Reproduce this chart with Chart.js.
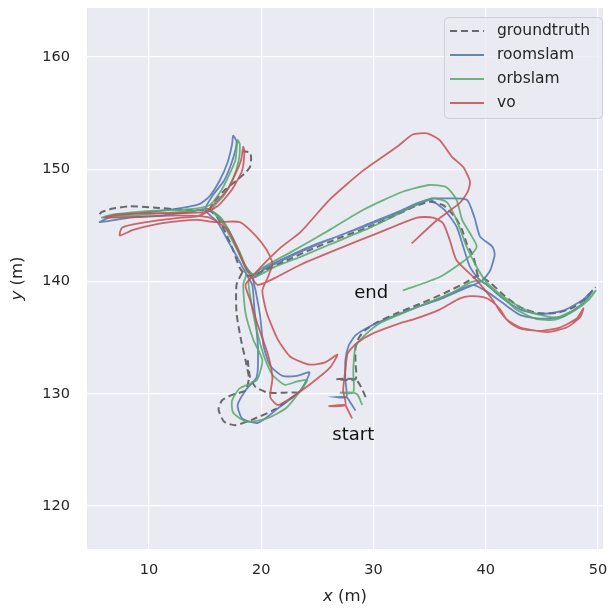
<!DOCTYPE html>
<html>
<head>
<meta charset="utf-8">
<script src="https://cdn.jsdelivr.net/npm/chart.js@4/dist/chart.umd.min.js"></script>
<style>
  html, body { margin: 0; padding: 0; background: #ffffff; }
  #wrap { width: 610px; height: 608px; }
</style>
</head>
<body>
<div id="wrap"><canvas id="chart" width="610" height="608"></canvas></div>
<script>
// Axis ranges and ticks (metres)
const xRange = [4.48, 50.45];
const yRange = [116.17, 164.37];
const xTicks = [10, 20, 30, 40, 50];
const yTicks = [120, 130, 140, 150, 160];

const seriesNames = ['groundtruth', 'roomslam', 'orbslam', 'vo'];

// Text annotations (centre x, baseline y)
const noteText = ['start', 'end'];
const noteX = [28.2, 29.8];
const noteY = [125.9, 138.5];

// groundtruth, null = break in the dashed line
const gtX = [29.3, 28.9, 28.4, 26.7, 28.4, 28.4, 28.4, 28.7, 29.3, 30.4, 31.9, 34.1, 36.4, 38.2, 39.3, 40.4, 41.7, 43.1, 44.6, 46.3, 47.8, 49.0, 49.8, null,
  39.3, 38.9, 38.3, 37.9, 37.3, 36.2, 35.0, 33.7, 32.4, 29.7, 27.0, 24.3, 22.1, 20.3, 19.2, 18.6, 18.1, 17.5, 16.8, 16.1, 15.4, 12.8, 10.4, 8.3, 6.8, 5.8, 5.6, null,
  15.4, 15.7, 16.8, 17.8, 18.5, 19.0, 19.1, 19.0, 18.4, null,
  18.3, 17.8, 17.8, 18.2, 18.6, 18.9, 18.6, 17.4, 16.5, 16.2, 16.7, 17.7, 19.2, 21.2, 22.8, 23.3, 22.1, 20.6, 19.5, 19.0, 18.8];
const gtY = [129.7, 130.6, 131.3, 131.3, 131.3, 132.8, 134.1, 135.0, 135.7, 136.4, 137.1, 138.0, 139.0, 139.9, 140.5, 139.9, 138.7, 137.7, 137.2, 137.2, 137.7, 138.6, 139.5, null,
  140.5, 142.2, 143.4, 144.6, 145.7, 146.8, 147.1, 146.7, 146.1, 144.9, 143.9, 142.8, 141.8, 141.0, 140.5, 140.6, 141.2, 142.8, 144.4, 145.7, 146.3, 146.4, 146.6, 146.7, 146.5, 146.2, 146.0, null,
  146.3, 147.0, 148.2, 149.0, 149.6, 150.2, 151.0, 151.5, 151.6, null,
  140.8, 139.7, 137.2, 134.8, 133.0, 131.4, 130.3, 129.9, 129.4, 128.6, 127.5, 127.2, 127.7, 128.6, 129.7, 130.1, 130.1, 130.1, 130.6, 131.5, 133.0];

// roomslam
const roomX = [28.4, 27.9, 27.6, 26.7, 27.6, 27.5, 27.5, 27.8, 28.4, 29.5, 31.0, 33.3, 35.9, 38.2, 38.9,
  40.1, 41.5, 43.1, 44.8, 46.9, 48.7, 49.5, 48.7, 46.9, 44.8, 43.1, 41.5, 40.1, 39.5,
  38.6, 38.0, 37.4, 36.3, 35.0, 33.7, 32.4, 29.7, 27.0, 24.3, 22.1, 20.3, 19.5,
  18.5, 17.8, 17.1, 16.3, 15.2, 13.7, 11.2, 8.3, 6.5, 5.6, 6.8, 9.2, 11.9, 14.5,
  15.4, 16.3, 17.0, 17.4, 17.5, 17.8, 17.7, 17.3, 16.7, 15.7, 15.0,
  16.1, 17.0, 17.9, 18.7, 19.2, 19.4, 19.7, 19.6, 18.6, 17.9, 18.3, 19.7, 21.5, 23.5, 24.3,
  23.2, 21.9, 20.8, 20.2, 19.9, 19.5, 19.3,
  20.3, 22.1, 24.3, 27.0, 29.7, 32.4, 35.3, 35.9, 38.3, 39.0, 39.5, 40.6, 40.8, 40.4, 39.7, 38.2, 35.9, 34.1];
const roomY = [128.5, 129.3, 129.7, 129.7, 129.7, 131.2, 133.0, 134.3, 135.2, 135.9, 136.6, 137.5, 138.5, 139.5, 139.7,
  139.1, 138.1, 137.0, 136.7, 136.9, 138.1, 139.2, 138.4, 137.4, 137.1, 137.5, 138.5, 139.7, 140.1,
  141.3, 143.1, 144.9, 146.4, 147.3, 146.9, 146.3, 145.2, 144.1, 143.1, 142.1, 141.2, 140.4,
  141.5, 143.1, 144.6, 145.7, 146.5, 146.2, 145.9, 145.7, 145.4, 145.3, 145.8, 146.1, 146.4, 146.9,
  147.6, 149.0, 150.6, 152.2, 153.0, 152.5, 151.7, 150.4, 149.0, 147.7, 146.4,
  145.3, 143.7, 142.1, 140.6, 139.7, 137.5, 134.3, 131.5, 130.3, 129.0, 127.8, 127.4, 128.7, 130.3, 131.9,
  131.6, 131.6, 132.5, 134.3, 137.0, 139.2, 140.3,
  141.1, 142.0, 143.0, 144.1, 145.1, 146.2, 147.4, 147.4, 147.3, 145.7, 144.0, 143.1, 142.4, 141.0, 140.1, 139.4, 138.4, 137.8];

// orbslam
const orbX = [29.0, 28.6, 28.2, 27.0, 28.2, 28.2, 28.4, 29.1, 30.6, 32.4, 34.6, 36.8, 38.6, 39.5,
  40.1, 42.4, 44.2, 46.3, 48.1, 49.3, 49.8, 49.2, 47.9, 46.2, 44.4, 42.6, 41.0, 40.1,
  39.2, 38.3, 37.4, 36.5, 35.2, 33.7, 32.4, 29.7, 26.1, 23.5, 21.2, 19.6,
  18.8, 18.1, 17.2, 16.4, 15.3, 12.8, 10.1, 7.4, 5.8, 7.0, 10.1, 13.2, 15.4,
  16.3, 17.0, 17.7, 17.9, 18.1, 18.0, 17.5, 16.7, 15.6,
  16.5, 17.4, 18.2, 18.7, 18.4, 18.6, 19.3, 20.1, 19.6, 18.1, 17.4, 17.5, 18.7, 20.5, 22.3, 24.1,
  23.2, 22.1, 21.0, 20.2, 19.5, 19.0, 18.9,
  20.1, 22.6, 26.1, 29.1, 32.6, 35.0, 36.5, 37.4, 37.9, 38.6, 39.2, 38.4, 35.9, 32.6];
const orbY = [129.0, 129.9, 130.1, 130.1, 130.1, 132.1, 134.2, 135.1, 136.3, 137.1, 138.0, 138.9, 139.9, 140.1,
  139.7, 138.1, 137.2, 136.8, 137.6, 138.6, 139.2, 138.4, 137.4, 136.6, 136.7, 137.6, 139.1, 139.9,
  141.3, 143.1, 145.5, 147.1, 147.4, 146.8, 146.1, 144.8, 143.3, 142.2, 141.3, 140.5,
  141.0, 142.6, 144.4, 145.7, 146.4, 146.2, 146.0, 145.8, 145.7, 146.0, 146.3, 146.4, 146.8,
  147.9, 149.2, 150.8, 152.6, 152.2, 150.8, 149.2, 147.7, 146.4,
  145.3, 143.7, 142.1, 140.8, 139.7, 137.2, 134.8, 133.0, 131.2, 130.5, 129.4, 128.3, 127.5, 127.8, 128.8, 131.2,
  131.1, 130.8, 131.7, 133.5, 136.1, 138.8, 140.1,
  141.2, 142.6, 144.6, 146.4, 148.0, 148.6, 148.4, 147.3, 145.5, 144.3, 143.1, 142.1, 140.4, 139.2];

// vo
const voX = [28.1, 27.6, 27.5, 26.0, 27.5, 27.3, 27.5, 27.7, 28.5, 30.0, 32.4, 33.5, 35.9, 37.7, 38.6, 39.8,
  40.6, 41.3, 41.9, 43.1, 45.5, 47.2, 48.4, 48.7, 48.1, 46.6, 44.8, 43.1, 42.2, 41.3, 40.6, 39.2, 37.4,
  36.8, 36.2, 35.3, 33.9, 30.6, 26.1, 23.5, 21.2, 19.7,
  19.0, 18.5, 17.8, 17.0, 15.4, 12.8, 10.1, 7.4, 6.0, 7.4, 10.1, 12.8, 15.0,
  15.7, 17.0, 17.8, 18.2, 18.4, 18.5, 18.3, 17.4, 16.1,
  14.3, 12.8, 9.2, 7.6, 7.4, 8.6, 11.2, 14.3, 15.9,
  18.1, 19.5, 20.5, 21.0, 20.6, 20.1, 20.5, 21.5, 22.6, 24.3, 25.7, 26.8, 26.1, 24.3, 22.6, 21.5, 20.8, 21.0, 20.6, 19.7, 19.0, 18.6,
  19.5, 21.7, 23.5, 26.1, 29.1, 32.1, 33.5, 34.8, 35.9, 37.0, 38.0, 38.6, 38.4, 37.7, 35.7, 33.4];
const voY = [127.8, 128.8, 129.0, 128.9, 129.0, 130.3, 132.1, 133.6, 134.5, 135.4, 136.3, 136.6, 137.5, 138.5, 138.7, 138.6,
  138.2, 137.5, 136.6, 135.9, 135.5, 135.9, 136.8, 137.6, 136.7, 135.9, 135.6, 135.8, 136.3, 137.3, 138.4, 140.1, 141.9,
  143.7, 145.2, 145.7, 145.7, 144.4, 142.6, 141.5, 140.3, 139.7,
  140.6, 141.5, 143.1, 144.6, 145.7, 145.9, 145.8, 145.7, 145.7, 146.0, 146.1, 146.1, 146.2,
  146.8, 148.2, 149.8, 150.8, 152.0, 151.5, 149.9, 148.2, 146.7,
  145.8, 145.7, 145.2, 144.8, 144.1, 144.6, 145.2, 145.5, 145.3,
  145.3, 144.1, 142.8, 141.6, 140.4, 139.2, 137.2, 134.8, 133.3, 132.6, 132.8, 133.5, 132.3, 130.8, 129.6, 129.0, 129.7, 131.4, 133.5, 136.1, 138.4, 139.7,
  140.8, 143.0, 144.4, 147.3, 149.9, 152.0, 153.1, 153.2, 152.6, 151.1, 150.2, 148.9, 148.0, 147.0, 145.5, 143.4];

function toPoints(xs, ys) {
    return xs.map((x, i) => (x === null ? { x: null, y: null } : { x: x, y: ys[i] }));
}

const FONT = 'DejaVu Sans';
const TEXT_COLOR = '#262626';

// Plot face colour (seaborn darkgrid)
const plotBackground = {
    id: 'plotBackground',
    beforeDraw(chart) {
        const { ctx, chartArea } = chart;
        ctx.save();
        ctx.fillStyle = '#eaeaf2';
        ctx.fillRect(chartArea.left, chartArea.top, chartArea.right - chartArea.left, chartArea.bottom - chartArea.top);
        ctx.restore();
    }
};

// "start" / "end" notes placed in data coordinates
const notes = {
    id: 'notes',
    afterDatasetsDraw(chart) {
        const { ctx, scales } = chart;
        ctx.save();
        ctx.font = '18px "' + FONT + '"';
        ctx.fillStyle = '#111111';
        ctx.textAlign = 'center';
        ctx.textBaseline = 'alphabetic';
        noteText.forEach((t, i) => {
            ctx.fillText(t, scales.x.getPixelForValue(noteX[i]), scales.y.getPixelForValue(noteY[i]));
        });
        ctx.restore();
    }
};

// Draw a label with an italic variable name followed by upright units
function drawMixedLabel(ctx, italicPart, plainPart, size) {
    ctx.font = 'italic ' + size + 'px "' + FONT + '"';
    const w1 = ctx.measureText(italicPart).width;
    ctx.font = size + 'px "' + FONT + '"';
    const w2 = ctx.measureText(plainPart).width;
    const start = -(w1 + w2) / 2;
    ctx.textAlign = 'left';
    ctx.textBaseline = 'middle';
    ctx.font = 'italic ' + size + 'px "' + FONT + '"';
    ctx.fillText(italicPart, start, 0);
    ctx.font = size + 'px "' + FONT + '"';
    ctx.fillText(plainPart, start + w1, 0);
}

const axisTitles = {
    id: 'axisTitles',
    afterDraw(chart) {
        const { ctx, chartArea } = chart;
        ctx.save();
        ctx.fillStyle = TEXT_COLOR;
        ctx.translate((chartArea.left + chartArea.right) / 2, 597);
        drawMixedLabel(ctx, 'x', ' (m)', 16.5);
        ctx.restore();

        ctx.save();
        ctx.fillStyle = TEXT_COLOR;
        ctx.translate(18, (chartArea.top + chartArea.bottom) / 2);
        ctx.rotate(-Math.PI / 2);
        drawMixedLabel(ctx, 'y', ' (m)', 16.5);
        ctx.restore();
    }
};

// Legend in the upper right corner
const legendBox = {
    id: 'legendBox',
    afterDraw(chart) {
        const { ctx, chartArea } = chart;
        const w = 159, h = 101;
        const x0 = chartArea.right - w, y0 = chartArea.top + 9;
        ctx.save();
        ctx.beginPath();
        ctx.roundRect(x0 + 0.5, y0 + 0.5, w - 1, h, 4);
        ctx.fillStyle = 'rgba(234,234,242,0.8)';
        ctx.fill();
        ctx.strokeStyle = '#cfcfd6';
        ctx.lineWidth = 1;
        ctx.stroke();

        ctx.font = '15.5px "' + FONT + '"';
        ctx.textAlign = 'left';
        ctx.textBaseline = 'middle';
        chart.data.datasets.forEach((ds, i) => {
            const cy = y0 + 14 + i * 24;
            ctx.beginPath();
            ctx.strokeStyle = ds.borderColor;
            ctx.lineWidth = ds.borderWidth;
            ctx.setLineDash(ds.borderDash || []);
            ctx.moveTo(x0 + 6, cy);
            ctx.lineTo(x0 + 40, cy);
            ctx.stroke();
            ctx.setLineDash([]);
            ctx.fillStyle = TEXT_COLOR;
            ctx.fillText(ds.label, x0 + 53, cy);
        });
        ctx.restore();
    }
};

const ctx = document.getElementById('chart').getContext('2d');

new Chart(ctx, {
    type: 'scatter',
    data: {
        datasets: [{
            label: seriesNames[0],
            data: toPoints(gtX, gtY),
            borderColor: 'rgba(72,72,72,0.8)',
            borderWidth: 2,
            borderDash: [7, 4],
            order: 4
        }, {
            label: seriesNames[1],
            data: toPoints(roomX, roomY),
            borderColor: 'rgba(76,114,176,0.85)',
            borderWidth: 1.8,
            order: 3
        }, {
            label: seriesNames[2],
            data: toPoints(orbX, orbY),
            borderColor: 'rgba(85,168,104,0.85)',
            borderWidth: 1.8,
            order: 2
        }, {
            label: seriesNames[3],
            data: toPoints(voX, voY),
            borderColor: 'rgba(196,78,82,0.85)',
            borderWidth: 1.8,
            order: 1
        }]
    },
    options: {
        responsive: false,
        animation: false,
        devicePixelRatio: 1,
        layout: { padding: { top: 8, right: 7, left: 0, bottom: 0 } },
        datasets: {
            scatter: { showLine: true, spanGaps: false, pointRadius: 0, pointHoverRadius: 0, tension: 0.2 }
        },
        plugins: {
            legend: { display: false },
            tooltip: { enabled: false }
        },
        scales: {
            x: {
                type: 'linear',
                min: xRange[0],
                max: xRange[1],
                afterFit(scale) {
                    scale.height = 59;
                    scale.paddingLeft = 0;
                    scale.paddingRight = 0;
                },
                afterBuildTicks(scale) { scale.ticks = xTicks.map(v => ({ value: v })); },
                grid: { color: '#ffffff', lineWidth: 1.2, drawTicks: false },
                border: { display: false },
                ticks: { padding: 13, color: TEXT_COLOR, font: { family: FONT, size: 14.5 } }
            },
            y: {
                type: 'linear',
                min: yRange[0],
                max: yRange[1],
                afterFit(scale) {
                    scale.width = 87;
                    scale.paddingTop = 0;
                    scale.paddingBottom = 0;
                },
                afterBuildTicks(scale) { scale.ticks = yTicks.map(v => ({ value: v })); },
                grid: { color: '#ffffff', lineWidth: 1.2, drawTicks: false },
                border: { display: false },
                ticks: { padding: 17, color: TEXT_COLOR, font: { family: FONT, size: 14.5 } }
            }
        }
    },
    plugins: [plotBackground, notes, legendBox, axisTitles]
});
</script>
</body>
</html>
